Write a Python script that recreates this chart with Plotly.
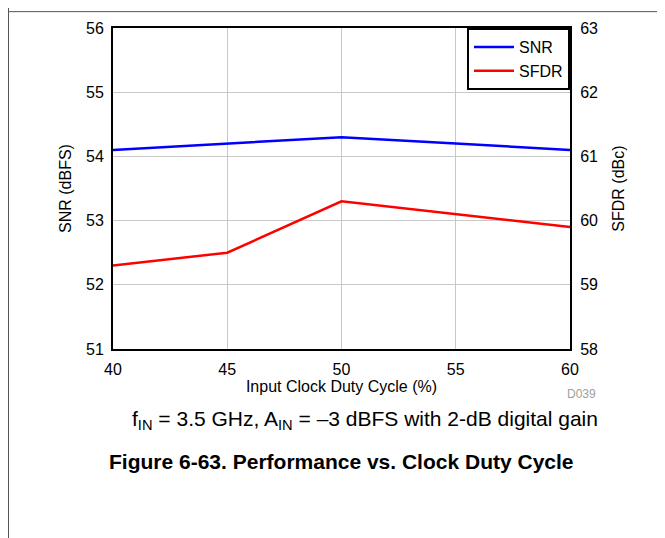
import plotly.graph_objects as go

duty_cycle = [40, 45, 50, 55, 60]
snr_dbfs = [54.1, 54.2, 54.3, 54.2, 54.1]
sfdr_dbc = [59.3, 59.5, 60.3, 60.1, 59.9]

x_ticks = [40, 45, 50, 55, 60]
snr_ticks = [51, 52, 53, 54, 55, 56]
sfdr_ticks = [58, 59, 60, 61, 62, 63]

FONT = "Liberation Sans, Arial, sans-serif"
W, H = 665, 538
OFF = 8  # page body margin
# plot area in screen pixels: x 113..570, y 25..349
L, T = 113 - OFF, 25 - OFF
R, B = W - (570 - OFF), H - (349 - OFF)
pw, ph = W - L - R, H - T - B

def px(xs):
    return (xs - OFF - L) / pw

def py(ys):
    return 1 - (ys - OFF - T) / ph

fig = go.Figure()
fig.add_trace(go.Scatter(x=duty_cycle, y=snr_dbfs, mode="lines", name="SNR",
                         line=dict(color="#0000ff", width=2.5), yaxis="y"))
fig.add_trace(go.Scatter(x=duty_cycle, y=sfdr_dbc, mode="lines", name="SFDR",
                         line=dict(color="#ff0000", width=2.5), yaxis="y2"))

axis_font = dict(family=FONT, size=16, color="#000")
fig.update_layout(
    width=W, height=H,
    margin=dict(l=L, r=R, t=T, b=B, pad=0),
    paper_bgcolor="white", plot_bgcolor="white",
    font=dict(family=FONT, color="#000"),
    showlegend=True,
    legend=dict(x=1, y=1, xanchor="right", yanchor="top",
                bordercolor="#000", borderwidth=2, bgcolor="white",
                font=dict(family=FONT, size=16, color="#000"),
                tracegroupgap=0, itemwidth=40),
    xaxis=dict(range=[40, 60], tickvals=x_ticks, ticks="outside", ticklen=5,
               tickcolor="rgba(0,0,0,0)", showgrid=True,
               gridcolor="#c8c8c8", gridwidth=1, showline=True, linecolor="#000",
               linewidth=2, mirror=True, zeroline=False, tickfont=axis_font,
               title=dict(text="Input Clock Duty Cycle (%)", font=axis_font, standoff=0)),
    yaxis=dict(range=[51, 56], tickvals=snr_ticks, ticks="outside", ticklen=4,
               tickcolor="rgba(0,0,0,0)", showgrid=True,
               gridcolor="#c8c8c8", gridwidth=1, showline=True, linecolor="#000",
               linewidth=2, mirror=True, zeroline=False, tickfont=axis_font,
               title=dict(text="SNR (dBFS)", font=axis_font, standoff=10)),
    yaxis2=dict(range=[58, 63], tickvals=sfdr_ticks, ticks="outside", ticklen=5,
                tickcolor="rgba(0,0,0,0)", overlaying="y",
                side="right", showgrid=False, showline=True, linecolor="#000",
                linewidth=2, zeroline=False, tickfont=axis_font,
                title=dict(text="SFDR (dBc)", font=axis_font, standoff=16)),
)

# page frame lines (screen x=8 and y=8)
fig.add_shape(type="line", xref="paper", yref="paper", x0=px(8.5), x1=px(8.5),
              y0=py(0), y1=py(H + OFF), line=dict(color="#555", width=1))
fig.add_shape(type="line", xref="paper", yref="paper", x0=px(8), x1=px(W + OFF),
              y0=py(8.5), y1=py(8.5), line=dict(color="#555", width=1))

fig.add_annotation(text="D039", xref="paper", yref="paper", x=px(581), y=py(394),
                   xanchor="center", yanchor="middle", showarrow=False,
                   font=dict(family=FONT, size=12, color="#a0a0a0"))
fig.add_annotation(text="f<sub>IN</sub> = 3.5 GHz, A<sub>IN</sub> = \u20133 dBFS with 2-dB digital gain",
                   xref="paper", yref="paper", x=px(364.5), y=py(421),
                   xanchor="center", yanchor="middle", showarrow=False,
                   font=dict(family=FONT, size=21, color="#000"))
fig.add_annotation(text="<b>Figure 6-63. Performance vs. Clock Duty Cycle</b>",
                   xref="paper", yref="paper", x=px(341.5), y=py(463),
                   xanchor="center", yanchor="middle", showarrow=False,
                   font=dict(family=FONT, size=21, color="#000"))

fig.write_html("out.html")
